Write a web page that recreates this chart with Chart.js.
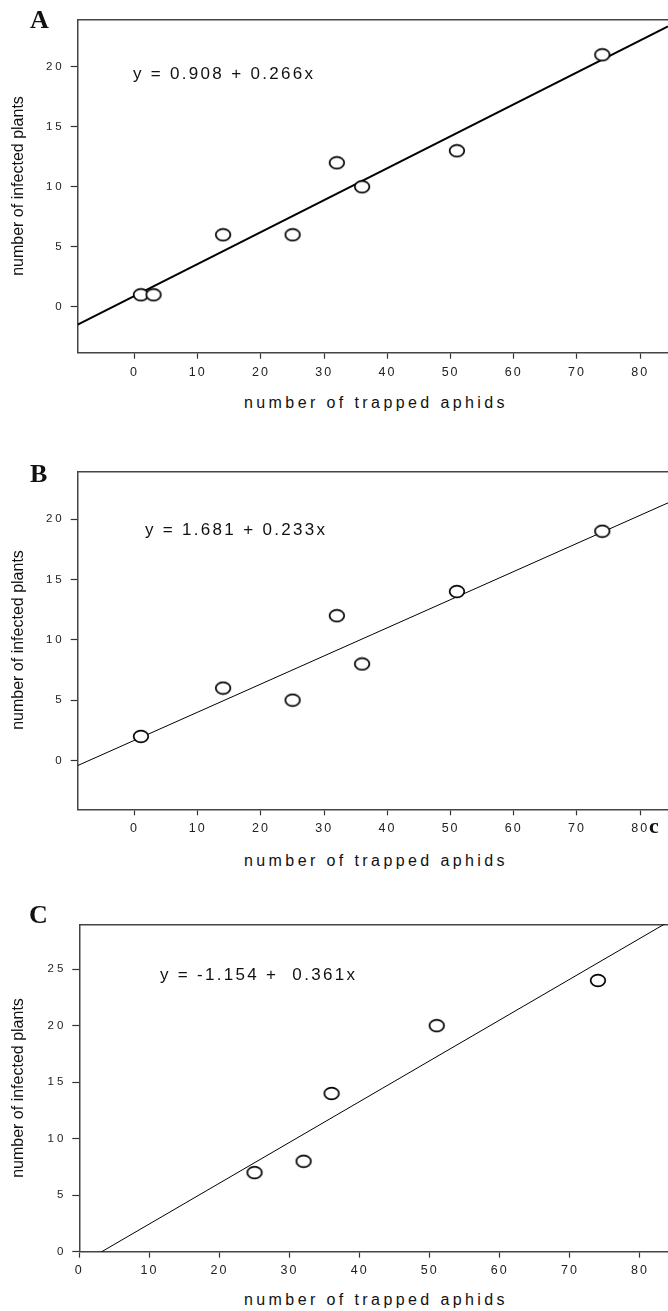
<!DOCTYPE html>
<html lang="en">
<head>
<meta charset="UTF-8">
<title>Infected plants vs trapped aphids</title>
<script src="https://cdn.jsdelivr.net/npm/chart.js"></script>
<style>
  body { margin: 0; background: #fff; }
  #page {
    position: relative;
    width: 668px;
    height: 1311px;
    overflow: hidden;
    background: #fff;
    font-family: Arial, "Liberation Sans", sans-serif;
    color: #111;
  }
  #page canvas { position: absolute; left: 0; }
  .lbl { position: absolute; white-space: nowrap; }
  .panel {
    font-family: "Times New Roman", "Liberation Serif", serif;
    font-weight: bold;
    font-size: 26px;
    line-height: 26px;
  }
  .eq { font-size: 17px; line-height: 17px; letter-spacing: 2.3px; white-space: pre; }
  .xt { font-size: 16px; line-height: 16px; letter-spacing: 3.4px; transform: translateX(-50%); }
  .yt { font-size: 16px; line-height: 16px; transform: translate(-50%, -50%) rotate(-90deg); }
</style>
</head>
<body>
<div id="page">
  <canvas id="chartA"></canvas>
  <canvas id="chartB"></canvas>
  <canvas id="chartC"></canvas>

  <div class="lbl panel" style="left:30px; top:6.5px;">A</div>
  <div class="lbl panel" style="left:30px; top:461px;">B</div>
  <div class="lbl panel" style="left:29px; top:902px;">C</div>

  <div class="lbl eq" id="eqA" style="left:133px; top:64.5px;"></div>
  <div class="lbl eq" id="eqB" style="left:145px; top:520.5px;"></div>
  <div class="lbl eq" id="eqC" style="left:160px; top:965.5px;"></div>

  <div class="lbl xt" style="left:376px; top:394.5px;">number of trapped aphids</div>
  <div class="lbl xt" style="left:376px; top:852.5px;">number of trapped aphids</div>
  <div class="lbl xt" style="left:376px; top:1291.5px;">number of trapped aphids</div>

  <div class="lbl yt" style="left:17.5px; top:186px;">number of infected plants</div>
  <div class="lbl yt" style="left:17.5px; top:640px;">number of infected plants</div>
  <div class="lbl yt" style="left:17.5px; top:1088px;">number of infected plants</div>

  <div class="lbl panel" style="left:649px; top:815px; font-size:22px; line-height:22px;">c</div>
</div>

<script>
    // trapped aphids (x) and infected plants (y) for the three panels
    const aphidsA = [1, 3, 14, 25, 32, 36, 51, 74];
    const plantsA = [1, 1, 6, 6, 12, 10, 13, 21];
    const aphidsB = [1, 14, 25, 32, 36, 51, 74];
    const plantsB = [2, 6, 5, 12, 8, 14, 19];
    const aphidsC = [25, 32, 36, 51, 74];
    const plantsC = [7, 8, 14, 20, 24];

    // regression coefficients [intercept, slope]
    const fitA = [0.908, 0.266];
    const fitB = [1.681, 0.233];
    const fitC = [-1.154, 0.361];

    const equationA = 'y = 0.908 + 0.266x';
    const equationB = 'y = 1.681 + 0.233x';
    const equationC = 'y = -1.154 +  0.361x';

    const xTicks = [0, 10, 20, 30, 40, 50, 60, 70, 80];
    const yTicksAB = [0, 5, 10, 15, 20];
    const yTicksC = [0, 5, 10, 15, 20, 25];

    document.getElementById('eqA').textContent = equationA;
    document.getElementById('eqB').textContent = equationB;
    document.getElementById('eqC').textContent = equationC;

    const FONT = 'Arial, "Liberation Sans", sans-serif';

    // open elliptical marker
    function ring(w, h, lw) {
        const c = document.createElement('canvas');
        c.width = w;
        c.height = h;
        const g = c.getContext('2d');
        g.fillStyle = '#fff';
        g.strokeStyle = '#000';
        g.lineWidth = lw;
        g.beginPath();
        g.ellipse(w / 2, h / 2, w / 2 - lw, h / 2 - lw, 0, 0, Math.PI * 2);
        g.fill();
        g.stroke();
        return c;
    }
    const marker = ring(18, 15, 1.7);

    // spaced-out tick digits, a little wider on the y axis
    const labelSpacing = { x: '2px', y: '3px' };
    const spacing = {
        id: 'spacing',
        beforeDraw(chart) {
            Object.keys(labelSpacing).forEach(id => {
                const scale = chart.scales[id];
                if (!scale || scale._spaced) return;
                const draw = scale.drawLabels;
                scale.drawLabels = function (area) {
                    const ctx = this.ctx;
                    const prev = ctx.letterSpacing;
                    ctx.letterSpacing = labelSpacing[id];
                    draw.call(this, area);
                    ctx.letterSpacing = prev;
                };
                scale._spaced = true;
            });
        }
    };

    function makePanel(id, o) {
        const canvas = document.getElementById(id);
        canvas.width = 668;
        canvas.height = o.height;
        canvas.style.top = o.top + 'px';
        canvas.style.width = '668px';
        canvas.style.height = o.height + 'px';

        const points = o.xs.map((x, i) => ({ x: x, y: o.ys[i] }));
        const fitLine = [o.xMin, o.xMax].map(x => ({ x: x, y: o.fit[0] + o.fit[1] * x }));

        return new Chart(canvas, {
            type: 'scatter',
            data: {
                datasets: [
                    {
                        data: points,
                        pointStyle: marker,
                        pointRadius: 7,
                        pointHoverRadius: 7
                    },
                    {
                        type: 'line',
                        data: fitLine,
                        borderColor: '#000',
                        borderWidth: o.lineWidth,
                        pointRadius: 0,
                        showLine: true,
                        fill: false,
                        tension: 0,
                        clip: 0
                    }
                ]
            },
            options: {
                responsive: false,
                animation: false,
                events: [],
                layout: { padding: { top: o.padTop, left: 0, right: 0, bottom: 0 }, autoPadding: false },
                plugins: { legend: { display: false }, tooltip: { enabled: false } },
                scales: {
                    x: {
                        type: 'linear',
                        position: 'bottom',
                        min: o.xMin,
                        max: o.xMax,
                        afterBuildTicks: s => { s.ticks = xTicks.map(v => ({ value: v })); },
                        afterFit: s => { s.height = o.xAxisH; },
                        grid: { drawOnChartArea: false, color: '#333', tickLength: 6, tickWidth: 1.2 },
                        border: { color: '#444', width: 1.5 },
                        ticks: {
                            font: { family: FONT, size: 12.5 },
                            color: '#222',
                            padding: o.xPad,
                            maxRotation: 0,
                            autoSkip: false
                        }
                    },
                    y: {
                        type: 'linear',
                        position: 'left',
                        min: o.yMin,
                        max: o.yMax,
                        afterBuildTicks: s => { s.ticks = o.yTicks.map(v => ({ value: v })); },
                        afterFit: s => { s.width = o.yAxisW; },
                        grid: { drawOnChartArea: false, color: '#333', tickLength: 7, tickWidth: 1.2 },
                        border: { color: '#444', width: 1.5 },
                        ticks: {
                            font: { family: FONT, size: 11.5 },
                            color: '#222',
                            padding: 6
                        }
                    },
                    frameTop: {
                        axis: 'x',
                        type: 'linear',
                        position: 'top',
                        ticks: { display: false },
                        grid: { display: false, drawTicks: false },
                        border: { color: '#444', width: 1.5 },
                        afterFit: s => { s.height = 0; }
                    }
                }
            },
            plugins: [spacing]
        });
    }

    const charts = [
        makePanel('chartA', {
            xs: aphidsA, ys: plantsA, fit: fitA, yTicks: yTicksAB,
            top: 0, height: 383, padTop: 20, yAxisW: 77.7, xAxisH: 30.3, xPad: 6,
            xMin: -9, xMax: 84.4, yMin: -3.83, yMax: 23.9, lineWidth: 2
        }),
        makePanel('chartB', {
            xs: aphidsB, ys: plantsB, fit: fitB, yTicks: yTicksAB,
            top: 440, height: 400, padTop: 31.7, yAxisW: 77.7, xAxisH: 30.7, xPad: 6,
            xMin: -9, xMax: 84.4, yMin: -4.04, yMax: 23.93, lineWidth: 1
        }),
        makePanel('chartC', {
            xs: aphidsC, ys: plantsC, fit: fitC, yTicks: yTicksC,
            top: 890, height: 395, padTop: 34.3, yAxisW: 79.3, xAxisH: 33.3, xPad: 5,
            xMin: 0, xMax: 84.0, yMin: 0, yMax: 28.97, lineWidth: 1
        })
    ];
    // redraw so the spaced labels are used
    charts.forEach(c => c.draw());
</script>
</body>
</html>
